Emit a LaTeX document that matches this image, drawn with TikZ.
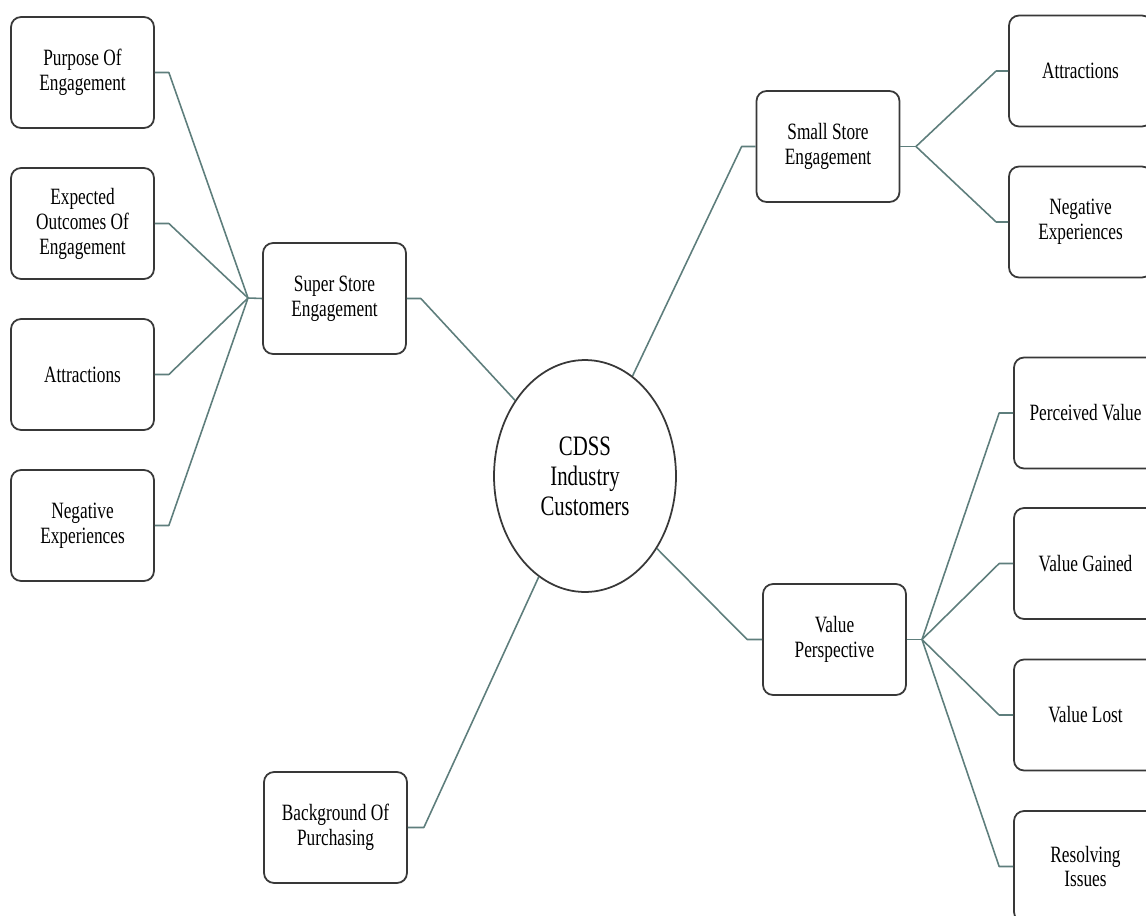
\documentclass[tikz,border=0pt]{standalone}
\usepackage{fontspec}
\setmainfont{Liberation Serif}[FakeStretch=0.74]
\usetikzlibrary{shapes.geometric,calc}

\definecolor{boxline}{HTML}{383838}
\definecolor{linkline}{HTML}{5E7E7C}

\tikzset{
  topic/.style={draw=boxline, line width=1pt, rounded corners=0.2cm, fill=white,
    minimum width=2.86cm, minimum height=2.22cm, align=center, inner sep=2pt,
    font=\fontsize{13.3}{14.2}\selectfont},
  hub/.style={draw=boxline, line width=1pt, ellipse, fill=white,
    minimum width=3.64cm, minimum height=4.64cm, inner sep=0pt, align=center,
    font=\fontsize{16}{17}\selectfont},
  link/.style={draw=linkline, line width=0.9pt, line join=round}
}

\begin{document}
\begin{tikzpicture}[x=0.02cm, y=-0.02cm]
  \useasboundingbox (0,0) rectangle (1146,916);
  \clip (0,0) rectangle (1146,916);

  % branch points
  \coordinate (jL) at (248,298);
  \coordinate (jS) at (916,146.5);
  \coordinate (jV) at (922,639.5);

  % central topic
  \node[hub] (center) at (585,476) {CDSS\\Industry\\Customers};

  % first level
  \node[topic] (super) at (334.5,298.5) {Super Store\\Engagement};
  \node[topic] (small) at (828,146.5) {Small Store\\Engagement};
  \node[topic] (value) at (834.5,639.5) {Value\\Perspective};
  \node[topic] (background) at (335.5,827.5) {Background Of\\Purchasing};

  % super store branch
  \node[topic] (purpose) at (82.5,72.5) {Purpose Of\\Engagement};
  \node[topic] (expected) at (82.5,223.5) {Expected\\Outcomes Of\\Engagement};
  \node[topic] (attrL) at (82.5,374.5) {Attractions};
  \node[topic] (negL) at (82.5,525.5) {Negative\\Experiences};

  % small store branch
  \node[topic] (attrR) at (1080.5,71) {Attractions};
  \node[topic] (negR) at (1080.5,222) {Negative\\Experiences};

  % value branch
  \node[topic] (perceived) at (1085.5,413) {Perceived Value};
  \node[topic] (gained) at (1085.5,563.5) {Value Gained};
  \node[topic] (lost) at (1085.5,715) {Value Lost};
  \node[topic] (resolving) at (1085.5,866.5) {Resolving\\Issues};

  % links to the central topic
  \draw[link] (super.east) -- ++(14,0) -- (center);
  \draw[link] (small.west) -- ++(-14,0) -- (center);
  \draw[link] (value.west) -- ++(-15,0) -- (center);
  \draw[link] (background.east) -- ++(16,0) -- (center);

  % super store links
  \draw[link] (super.west) -- (jL);
  \foreach \n in {purpose,expected,attrL,negL}
    \draw[link] (\n.east) -- ++(14,0) -- (jL);

  % small store links
  \draw[link] (small.east) -- (jS);
  \foreach \n in {attrR,negR}
    \draw[link] (jS) -- ($(\n.west)+(-12,0)$) -- (\n.west);

  % value links
  \draw[link] (value.east) -- (jV);
  \foreach \n in {perceived,gained,lost,resolving}
    \draw[link] (jV) -- ($(\n.west)+(-14,0)$) -- (\n.west);
\end{tikzpicture}
\end{document}
